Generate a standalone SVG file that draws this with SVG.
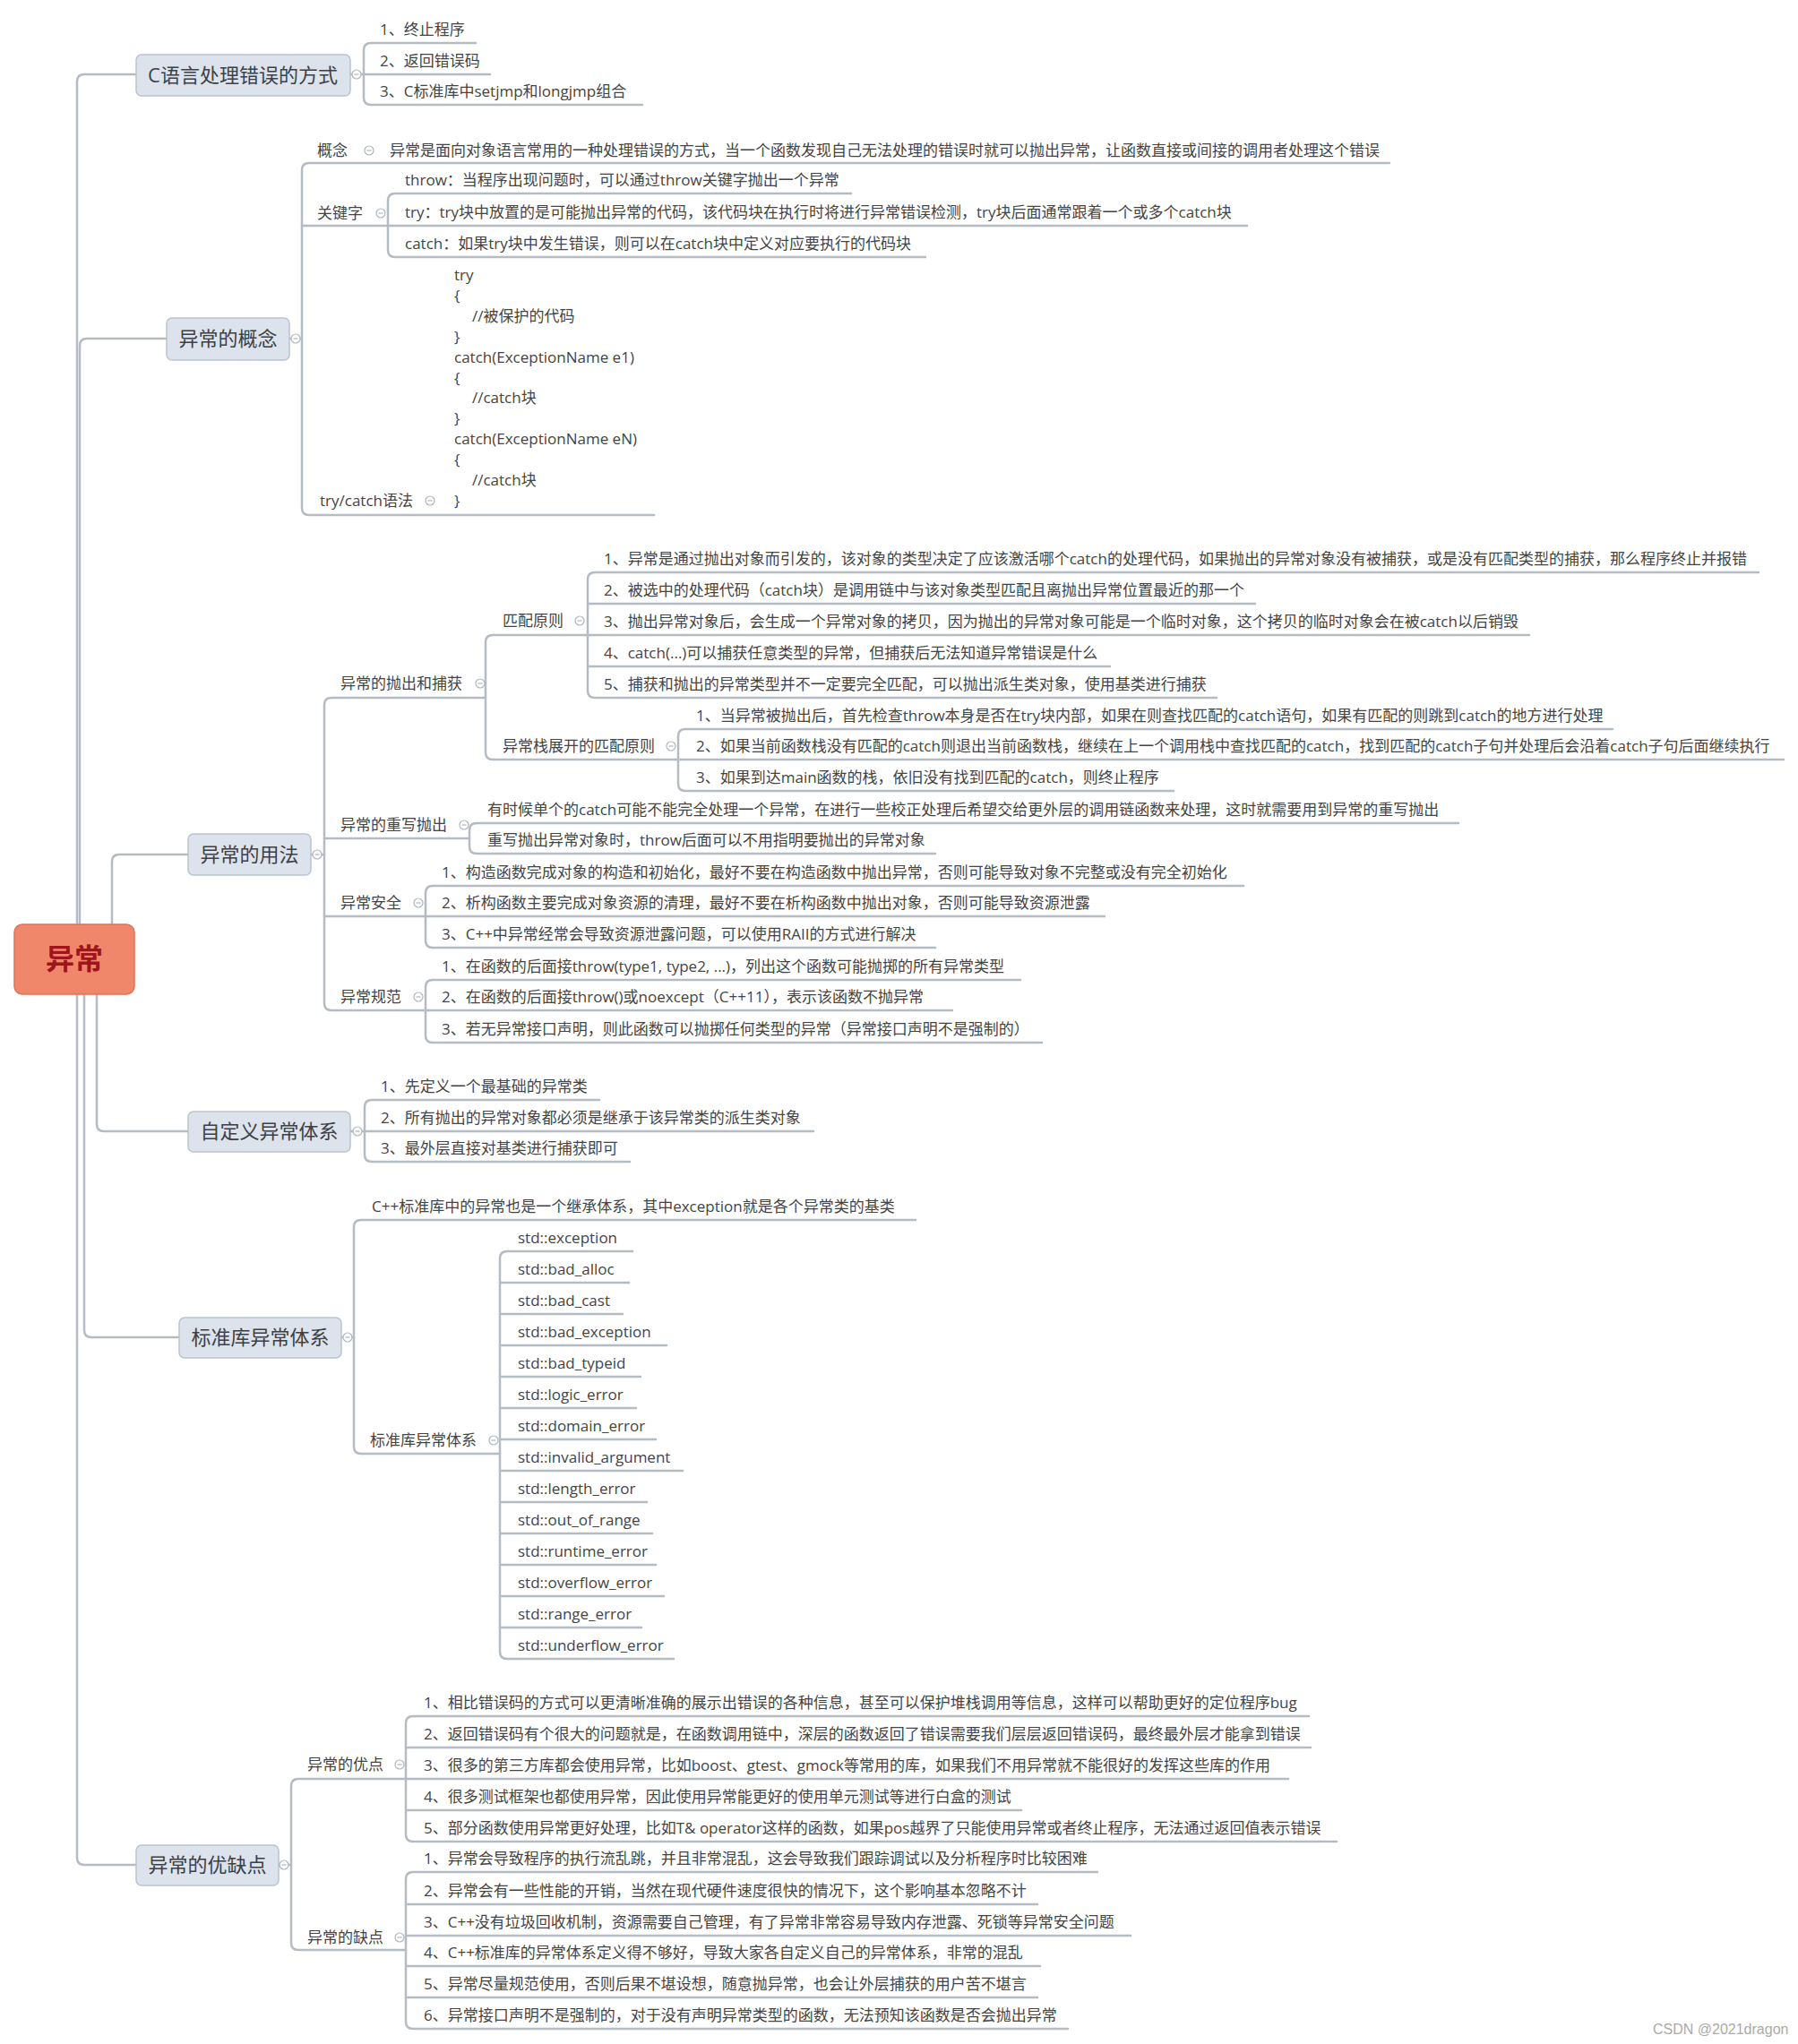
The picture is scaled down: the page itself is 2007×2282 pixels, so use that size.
<svg xmlns="http://www.w3.org/2000/svg" xmlns:xlink="http://www.w3.org/1999/xlink" width="2007" height="2282" viewBox="0 0 2007 2282">
<style>
.ln{fill:none;stroke:#B4BBC4;stroke-width:2.5;stroke-linecap:round}
.t{font-family:"Open Sans","Noto Sans CJK SC",sans-serif;font-size:17px;fill:#444}
.box{fill:#DCE3EC;stroke:#B9C4D1;stroke-width:1.5}
.bt{font-family:"Open Sans","Noto Sans CJK SC",sans-serif;font-size:22px;fill:#3d4046;text-anchor:middle}
.rt{font-family:"Noto Sans CJK SC",sans-serif;font-size:32px;font-weight:bold;fill:#A0141C;text-anchor:middle}
.wm{font-family:"Liberation Sans",sans-serif;font-size:16px;fill:#AAAAAA}
</style>
<defs>
<g id="col"><circle r="5" fill="#fff" stroke="#AEB6C0" stroke-width="1.2"/><line x1="-2.5" y1="0" x2="2.5" y2="0" stroke="#AEB6C0" stroke-width="1.2"/></g>
</defs>
<rect width="2007" height="2282" fill="#fff"/>

<g id="connectors">
<path class="ln" d="M86 1032V91Q86 83 94 83H152"/>
<path class="ln" d="M89 1032V386Q89 378 97 378H186"/>
<path class="ln" d="M125 1032V962Q125 954 133 954H210"/>
<path class="ln" d="M108 1110V1255Q108 1263 116 1263H210"/>
<path class="ln" d="M94 1110V1485Q94 1493 102 1493H200"/>
<path class="ln" d="M86 1110V2074Q86 2082 94 2082H152"/>
<!-- C -->
<path class="ln" d="M391 83H406"/>
<path class="ln" d="M531 48H414Q406 48 406 56V109Q406 117 414 117H717"/>
<path class="ln" d="M406 83H547"/>
<!-- concept -->
<path class="ln" d="M323 378H337"/>
<path class="ln" d="M1551 182H345Q337 182 337 190V567Q337 575 345 575H730"/>
<path class="ln" d="M337 252H1392"/>
<path class="ln" d="M950 216H441Q433 216 433 224V279Q433 287 441 287H1033"/>
<!-- usage -->
<path class="ln" d="M347 954H362"/>
<path class="ln" d="M542 779H370Q362 779 362 787V1120Q362 1128 370 1128H475"/>
<path class="ln" d="M362 936H524"/>
<path class="ln" d="M362 1023H475"/>
<path class="ln" d="M656 709H550Q542 709 542 717V840Q542 848 550 848H757"/>
<path class="ln" d="M1963 639H664Q656 639 656 647V771Q656 779 664 779H1358"/>
<path class="ln" d="M656 674H1401"/>
<path class="ln" d="M656 709H1707"/>
<path class="ln" d="M656 744H1239"/>
<path class="ln" d="M1800 814H765Q757 814 757 822V875Q757 883 765 883H1310"/>
<path class="ln" d="M757 848H1991"/>
<path class="ln" d="M1628 919H532Q524 919 524 927V945Q524 953 532 953H1044"/>
<path class="ln" d="M1388 989H483Q475 989 475 997V1050Q475 1058 483 1058H1044"/>
<path class="ln" d="M475 1023H1233"/>
<path class="ln" d="M1139 1094H483Q475 1094 475 1102V1156Q475 1164 483 1164H1163"/>
<path class="ln" d="M475 1128H1063"/>
<!-- custom -->
<path class="ln" d="M391 1263H407"/>
<path class="ln" d="M669 1228H415Q407 1228 407 1236V1289Q407 1297 415 1297H703"/>
<path class="ln" d="M407 1263H908"/>
<!-- std -->
<path class="ln" d="M381 1493H395"/>
<path class="ln" d="M1022 1362H403Q395 1362 395 1370V1615Q395 1623 403 1623H558"/>
<path class="ln" d="M706 1397H566Q558 1397 558 1405V1844Q558 1852 566 1852H752"/>
<path class="ln" d="M558 1432H702M558 1467H695M558 1502H744M558 1537H715M558 1572H710M558 1607H732M558 1642H762M558 1677H722M558 1712H728M558 1747H732M558 1782H741M558 1817H716"/>
<!-- pros cons -->
<path class="ln" d="M311 2082H325"/>
<path class="ln" d="M453 1986H333Q325 1986 325 1994V2169Q325 2177 333 2177H453"/>
<path class="ln" d="M1461 1916H461Q453 1916 453 1924V2048Q453 2056 461 2056H1492"/>
<path class="ln" d="M453 1951H1463M453 1986H1438M453 2021H1140"/>
<path class="ln" d="M1225 2090H461Q453 2090 453 2098V2257Q453 2265 461 2265H1192"/>
<path class="ln" d="M453 2126H1158M453 2161H1262M453 2195H1161M453 2230H1158"/>
</g>

<g id="root">
<rect x="16" y="1032" width="134" height="78" rx="9" fill="#F0876B" stroke="#E0735A" stroke-width="1.5"/>
<text class="rt" x="83" y="1082">异常</text>
</g>

<g id="n-c">
<rect class="box" x="152" y="61" width="239" height="46" rx="6"/>
<text class="bt" x="271" y="92">C语言处理错误的方式</text>
<use href="#col" x="398" y="83"/>
</g>
<g id="n-c-items">
<text class="t" x="424" y="39">1、终止程序</text>
<text class="t" x="424" y="74">2、返回错误码</text>
<text class="t" x="424" y="108">3、C标准库中setjmp和longjmp组合</text>
</g>

<g id="n-concept">
<rect class="box" x="186" y="355" width="137" height="47" rx="6"/>
<text class="bt" x="254.5" y="386">异常的概念</text>
<use href="#col" x="330" y="378"/>
</g>
<g id="n-concept-def">
<text class="t" x="354" y="174">概念</text>
<use href="#col" x="412" y="168"/>
<text class="t" x="435" y="174">异常是面向对象语言常用的一种处理错误的方式，当一个函数发现自己无法处理的错误时就可以抛出异常，让函数直接或间接的调用者处理这个错误</text>
</g>
<g id="n-keyword">
<text class="t" x="354" y="244">关键字</text>
<use href="#col" x="425" y="238"/>
<text class="t" x="452" y="207">throw：当程序出现问题时，可以通过throw关键字抛出一个异常</text>
<text class="t" x="452" y="243">try：try块中放置的是可能抛出异常的代码，该代码块在执行时将进行异常错误检测，try块后面通常跟着一个或多个catch块</text>
<text class="t" x="452" y="278">catch：如果try块中发生错误，则可以在catch块中定义对应要执行的代码块</text>
</g>
<g id="n-trycatch">
<text class="t" x="357" y="565">try/catch语法</text>
<use href="#col" x="480" y="559"/>
<text class="t" x="507" y="313">try</text>
<text class="t" x="507" y="336">{</text>
<text class="t" x="527" y="359">//被保护的代码</text>
<text class="t" x="507" y="382">}</text>
<text class="t" x="507" y="405">catch(ExceptionName e1)</text>
<text class="t" x="507" y="428">{</text>
<text class="t" x="527" y="450">//catch块</text>
<text class="t" x="507" y="473">}</text>
<text class="t" x="507" y="496">catch(ExceptionName eN)</text>
<text class="t" x="507" y="519">{</text>
<text class="t" x="527" y="542">//catch块</text>
<text class="t" x="507" y="565">}</text>
</g>

<g id="n-usage">
<rect class="box" x="210" y="931" width="137" height="46" rx="6"/>
<text class="bt" x="278.5" y="962">异常的用法</text>
<use href="#col" x="354" y="954"/>
</g>
<g id="n-throwcatch">
<text class="t" x="380" y="769">异常的抛出和捕获</text>
<use href="#col" x="536" y="763"/>
</g>
<g id="n-match">
<text class="t" x="561" y="699">匹配原则</text>
<use href="#col" x="647" y="693"/>
<text class="t" x="674" y="630">1、异常是通过抛出对象而引发的，该对象的类型决定了应该激活哪个catch的处理代码，如果抛出的异常对象没有被捕获，或是没有匹配类型的捕获，那么程序终止并报错</text>
<text class="t" x="674" y="665">2、被选中的处理代码（catch块）是调用链中与该对象类型匹配且离抛出异常位置最近的那一个</text>
<text class="t" x="674" y="700">3、抛出异常对象后，会生成一个异常对象的拷贝，因为抛出的异常对象可能是一个临时对象，这个拷贝的临时对象会在被catch以后销毁</text>
<text class="t" x="674" y="735">4、catch(...)可以捕获任意类型的异常，但捕获后无法知道异常错误是什么</text>
<text class="t" x="674" y="770">5、捕获和抛出的异常类型并不一定要完全匹配，可以抛出派生类对象，使用基类进行捕获</text>
</g>
<g id="n-unwind">
<text class="t" x="561" y="839">异常栈展开的匹配原则</text>
<use href="#col" x="749" y="833"/>
<text class="t" x="777" y="805">1、当异常被抛出后，首先检查throw本身是否在try块内部，如果在则查找匹配的catch语句，如果有匹配的则跳到catch的地方进行处理</text>
<text class="t" x="777" y="839">2、如果当前函数栈没有匹配的catch则退出当前函数栈，继续在上一个调用栈中查找匹配的catch，找到匹配的catch子句并处理后会沿着catch子句后面继续执行</text>
<text class="t" x="777" y="874">3、如果到达main函数的栈，依旧没有找到匹配的catch，则终止程序</text>
</g>
<g id="n-rethrow">
<text class="t" x="380" y="927">异常的重写抛出</text>
<use href="#col" x="518" y="921"/>
<text class="t" x="544" y="910">有时候单个的catch可能不能完全处理一个异常，在进行一些校正处理后希望交给更外层的调用链函数来处理，这时就需要用到异常的重写抛出</text>
<text class="t" x="544" y="944">重写抛出异常对象时，throw后面可以不用指明要抛出的异常对象</text>
</g>
<g id="n-safety">
<text class="t" x="380" y="1014">异常安全</text>
<use href="#col" x="467" y="1008"/>
<text class="t" x="493" y="980">1、构造函数完成对象的构造和初始化，最好不要在构造函数中抛出异常，否则可能导致对象不完整或没有完全初始化</text>
<text class="t" x="493" y="1014">2、析构函数主要完成对象资源的清理，最好不要在析构函数中抛出对象，否则可能导致资源泄露</text>
<text class="t" x="493" y="1049">3、C++中异常经常会导致资源泄露问题，可以使用RAII的方式进行解决</text>
</g>
<g id="n-spec">
<text class="t" x="380" y="1119">异常规范</text>
<use href="#col" x="467" y="1113"/>
<text class="t" x="493" y="1085">1、在函数的后面接throw(type1, type2, ...)，列出这个函数可能抛掷的所有异常类型</text>
<text class="t" x="493" y="1119">2、在函数的后面接throw()或noexcept（C++11），表示该函数不抛异常</text>
<text class="t" x="493" y="1155">3、若无异常接口声明，则此函数可以抛掷任何类型的异常（异常接口声明不是强制的）</text>
</g>

<g id="n-custom">
<rect class="box" x="210" y="1241" width="181" height="45" rx="6"/>
<text class="bt" x="300.5" y="1271">自定义异常体系</text>
<use href="#col" x="399" y="1263"/>
<text class="t" x="425" y="1219">1、先定义一个最基础的异常类</text>
<text class="t" x="425" y="1254">2、所有抛出的异常对象都必须是继承于该异常类的派生类对象</text>
<text class="t" x="425" y="1288">3、最外层直接对基类进行捕获即可</text>
</g>

<g id="n-std">
<rect class="box" x="200" y="1471" width="181" height="45" rx="6"/>
<text class="bt" x="290.5" y="1501">标准库异常体系</text>
<use href="#col" x="388" y="1493"/>
<text class="t" x="415" y="1353">C++标准库中的异常也是一个继承体系，其中exception就是各个异常类的基类</text>
</g>
<g id="n-std-list">
<text class="t" x="413" y="1614">标准库异常体系</text>
<use href="#col" x="551" y="1608"/>
<text class="t" x="578" y="1388">std::exception</text>
<text class="t" x="578" y="1423">std::bad_alloc</text>
<text class="t" x="578" y="1458">std::bad_cast</text>
<text class="t" x="578" y="1493">std::bad_exception</text>
<text class="t" x="578" y="1528">std::bad_typeid</text>
<text class="t" x="578" y="1563">std::logic_error</text>
<text class="t" x="578" y="1598">std::domain_error</text>
<text class="t" x="578" y="1633">std::invalid_argument</text>
<text class="t" x="578" y="1668">std::length_error</text>
<text class="t" x="578" y="1703">std::out_of_range</text>
<text class="t" x="578" y="1738">std::runtime_error</text>
<text class="t" x="578" y="1773">std::overflow_error</text>
<text class="t" x="578" y="1808">std::range_error</text>
<text class="t" x="578" y="1843">std::underflow_error</text>
</g>

<g id="n-proscons">
<rect class="box" x="152" y="2060" width="159" height="45" rx="6"/>
<text class="bt" x="231.5" y="2090">异常的优缺点</text>
<use href="#col" x="317" y="2082"/>
</g>
<g id="n-pros">
<text class="t" x="343" y="1976">异常的优点</text>
<use href="#col" x="446" y="1970"/>
<text class="t" x="473" y="1907">1、相比错误码的方式可以更清晰准确的展示出错误的各种信息，甚至可以保护堆栈调用等信息，这样可以帮助更好的定位程序bug</text>
<text class="t" x="473" y="1942">2、返回错误码有个很大的问题就是，在函数调用链中，深层的函数返回了错误需要我们层层返回错误码，最终最外层才能拿到错误</text>
<text class="t" x="473" y="1977">3、很多的第三方库都会使用异常，比如boost、gtest、gmock等常用的库，如果我们不用异常就不能很好的发挥这些库的作用</text>
<text class="t" x="473" y="2012">4、很多测试框架也都使用异常，因此使用异常能更好的使用单元测试等进行白盒的测试</text>
<text class="t" x="473" y="2047">5、部分函数使用异常更好处理，比如T&amp; operator这样的函数，如果pos越界了只能使用异常或者终止程序，无法通过返回值表示错误</text>
</g>
<g id="n-cons">
<text class="t" x="343" y="2169">异常的缺点</text>
<use href="#col" x="446" y="2163"/>
<text class="t" x="473" y="2081">1、异常会导致程序的执行流乱跳，并且非常混乱，这会导致我们跟踪调试以及分析程序时比较困难</text>
<text class="t" x="473" y="2117">2、异常会有一些性能的开销，当然在现代硬件速度很快的情况下，这个影响基本忽略不计</text>
<text class="t" x="473" y="2152">3、C++没有垃圾回收机制，资源需要自己管理，有了异常非常容易导致内存泄露、死锁等异常安全问题</text>
<text class="t" x="473" y="2186">4、C++标准库的异常体系定义得不够好，导致大家各自定义自己的异常体系，非常的混乱</text>
<text class="t" x="473" y="2221">5、异常尽量规范使用，否则后果不堪设想，随意抛异常，也会让外层捕获的用户苦不堪言</text>
<text class="t" x="473" y="2256">6、异常接口声明不是强制的，对于没有声明异常类型的函数，无法预知该函数是否会抛出异常</text>
</g>

<text class="wm" x="1845" y="2271">CSDN @2021dragon</text>
</svg>
